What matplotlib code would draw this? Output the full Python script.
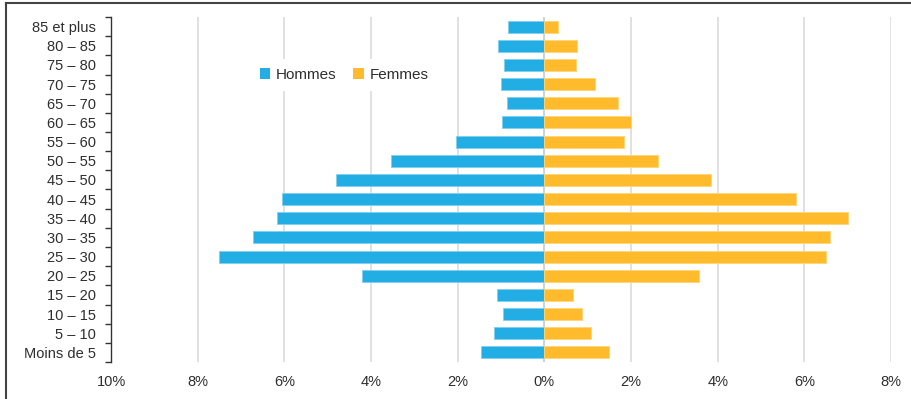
import matplotlib
matplotlib.use("Agg")
import matplotlib.pyplot as plt
from matplotlib.lines import Line2D
from matplotlib.patches import Patch
import numpy as np

plt.rcParams['font.family'] = ['Liberation Sans', 'DejaVu Sans']

# Age groups, from youngest to oldest
age_groups = ["Moins de 5", "5 – 10", "10 – 15", "15 – 20", "20 – 25", "25 – 30",
              "30 – 35", "35 – 40", "40 – 45", "45 – 50", "50 – 55", "55 – 60",
              "60 – 65", "65 – 70", "70 – 75", "75 – 80", "80 – 85", "85 et plus"]

# Share of the total population (%)
hommes = [1.45, 1.17, 0.95, 1.09, 4.21, 7.51, 6.73, 6.16, 6.05, 4.81, 3.54, 2.04,
          0.98, 0.87, 1.01, 0.93, 1.08, 0.84]
femmes = [1.49, 1.07, 0.86, 0.67, 3.58, 6.49, 6.60, 7.01, 5.81, 3.85, 2.62, 1.85,
          2.01, 1.71, 1.17, 0.74, 0.75, 0.31]

x_ticks = [-10, -8, -6, -4, -2, 0, 2, 4, 6, 8]
x_tick_labels = ["10%", "8%", "6%", "4%", "2%", "0%", "2%", "4%", "6%", "8%"]

blue = "#22ade4"
orange = "#ffbb2c"
text_color = "#2e2e2e"

fig = plt.figure(figsize=(9.11, 3.99), dpi=100)
ax = fig.add_axes([111 / 911, 1 - 362 / 399, 780 / 911, 345 / 399])

y = np.arange(len(age_groups))
h = np.array(hommes)
f = np.array(femmes)

ax.barh(y, -h, height=0.62, color=blue, edgecolor="#7fd0f0", linewidth=0.6, zorder=3)
ax.barh(y, f, height=0.62, color=orange, edgecolor="#ffd67a", linewidth=0.6, zorder=3)

ax.set_xlim(-10, 8)
ax.set_ylim(-0.5, len(age_groups) - 0.5)

# vertical grid
for xv in x_ticks[1:]:
    ax.axvline(xv, color="#c4c4c4" if xv == 0 else "#d9d9d9", linewidth=1.1, zorder=1)

ax.set_xticks(x_ticks)
ax.set_xticklabels(x_tick_labels, fontsize=10.5, color=text_color)
ax.tick_params(axis="x", length=0, pad=9)

ax.set_yticks(y)
ax.set_yticklabels(age_groups, fontsize=10.5, color=text_color)
ax.tick_params(axis="y", which="major", length=0, pad=11)
ax.set_yticks(np.arange(-0.5, len(age_groups)), minor=True)
ax.tick_params(axis="y", which="minor", length=4, width=1, color="#333333", direction="out")

for side in ["top", "right", "bottom"]:
    ax.spines[side].set_visible(False)
ax.spines["left"].set_color("#333333")
ax.spines["left"].set_linewidth(1)

handles = [Patch(facecolor=blue, edgecolor="none"), Patch(facecolor=orange, edgecolor="none")]
leg = fig.legend(handles, ["Hommes", "Femmes"], loc="center",
                 bbox_to_anchor=(344 / 911, 1 - 75 / 399), ncol=2, frameon=True,
                 fontsize=11, handlelength=0.7, handleheight=0.7, handletextpad=0.35,
                 columnspacing=1.1, borderpad=0.6)
leg.get_frame().set_facecolor("white")
leg.get_frame().set_edgecolor("none")
leg.get_frame().set_alpha(1)
leg.set_zorder(5)
for t in leg.get_texts():
    t.set_color(text_color)

# outer frame (left and top edges)
fig.add_artist(Line2D([5.5 / 911, 5.5 / 911], [0, 1 - 3 / 399], color="#444444", linewidth=1.5,
                      transform=fig.transFigure))
fig.add_artist(Line2D([5.5 / 911, 1], [1 - 3 / 399, 1 - 3 / 399], color="#444444", linewidth=1.5,
                      transform=fig.transFigure))

fig.savefig("out.png", dpi=100)
